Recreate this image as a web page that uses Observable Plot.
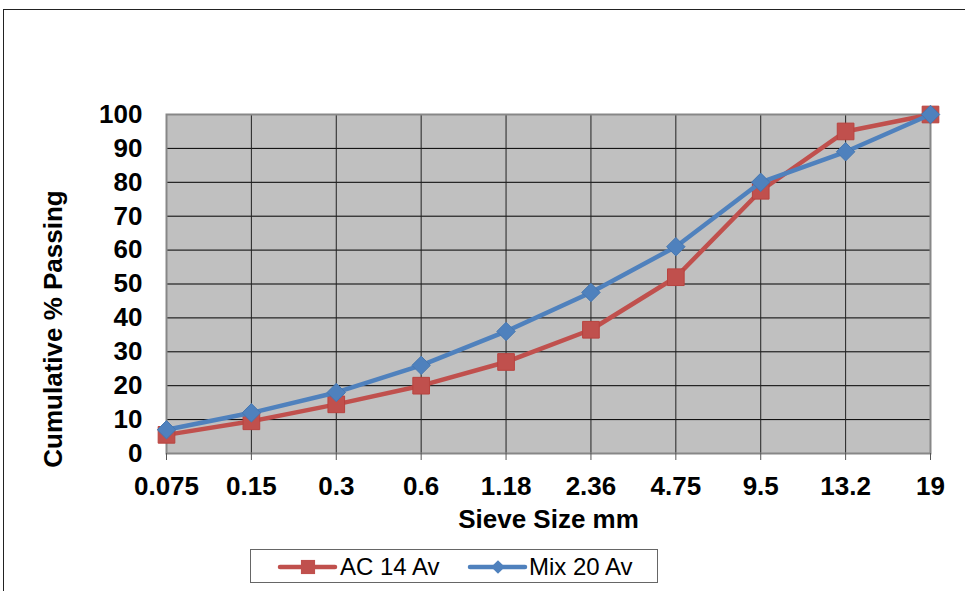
<!DOCTYPE html>
<html><head><meta charset="utf-8">
<script src="https://cdn.jsdelivr.net/npm/d3@7"></script>
<script src="https://cdn.jsdelivr.net/npm/@observablehq/plot@0.6"></script>
<style>
body{margin:0;width:965px;height:591px;overflow:hidden;position:relative;background:#fff;font-family:"Liberation Sans",Arial,sans-serif;}
#frame{position:absolute;left:3px;top:9px;width:1000px;height:700px;border:1.5px solid #222;box-sizing:border-box}
#chart{position:absolute;left:0;top:0}
#legend{position:absolute;left:250px;top:549px;width:408px;height:34px;border:1px solid #666;box-sizing:border-box;background:#fff}
#legend svg{position:absolute;left:0;top:0}
</style></head><body>
<div id="frame"></div>
<div id="chart"></div>
<div id="legend"></div>
<script>
const sieves = ["0.075","0.15","0.3","0.6","1.18","2.36","4.75","9.5","13.2","19"];
const ac14 = [5.5, 9.5, 14.5, 20, 27, 36.5, 52, 77.5, 95, 100];
const mix20 = [7, 12, 18, 26, 36, 47.5, 61, 80, 89, 100];
const yTicks = [0,10,20,30,40,50,60,70,80,90,100];
const seriesNames = ["AC 14 Av", "Mix 20 Av"];
const colors = ["#C0504D", "#4F81BD"];

const acData = sieves.map((s,i) => ({sieve:s, value:ac14[i]}));
const mixData = sieves.map((s,i) => ({sieve:s, value:mix20[i]}));

const chart = Plot.plot({
  width: 965, height: 545,
  marginLeft: 166, marginRight: 35, marginTop: 114, marginBottom: 92,
  style: {fontFamily: '"Liberation Sans", Arial, sans-serif', fontSize: "26px", fontWeight: "bold", color: "#000", background: "transparent"},
  x: {type: "point", domain: sieves, padding: 0, round: false},
  y: {domain: [0, 100]},
  marks: [
    Plot.frame({fill: "#C0C0C0", stroke: null}),
    Plot.gridY(yTicks, {stroke: "#000", strokeOpacity: 1, strokeWidth: 1}),
    Plot.gridX({stroke: "#222", strokeOpacity: 1, strokeWidth: 1}),
    Plot.frame({stroke: "#878787", strokeWidth: 2}),
    Plot.axisY({ticks: yTicks, tickSize: 0, tickPadding: 24, label: null, fontSize: 26, fontWeight: "bold"}),
    Plot.axisX({tickSize: 7, tickPadding: 16, stroke: "#555", label: null, fontSize: 26, fontWeight: "bold"}),
    Plot.text(["Sieve Size mm"], {frameAnchor: "bottom", dy: 66, textAnchor: "middle", lineAnchor: "middle", fontSize: 26, fontWeight: "bold"}),
    Plot.text(["Cumulative % Passing"], {frameAnchor: "left", dx: -113, dy: 45, rotate: -90, textAnchor: "middle", lineAnchor: "middle", fontSize: 26, fontWeight: "bold"}),
    Plot.line(acData, {x: "sieve", y: "value", stroke: colors[0], strokeWidth: 4.5}),
    Plot.dot(acData, {x: "sieve", y: "value", symbol: "square", r: 9.4, fill: colors[0], stroke: "#B8433F", strokeWidth: 1}),
    Plot.line(mixData, {x: "sieve", y: "value", stroke: colors[1], strokeWidth: 4.5}),
    Plot.dot(mixData, {x: "sieve", y: "value", symbol: "diamond2", r: 8.3, fill: colors[1], stroke: "#4677B0", strokeWidth: 1})
  ]
});
document.getElementById("chart").appendChild(chart);

// Legend
const lg = d3.select("#legend").append("svg").attr("width", 408).attr("height", 34)
  .style("font-family", '"Liberation Sans", Arial, sans-serif');
const entries = [
  {x0: 29, x1: 84, cx: 57, tx: 89, sym: d3.symbolSquare, size: 200},
  {x0: 219, x1: 274, cx: 247, tx: 278, sym: d3.symbolDiamond2, size: 120}
];
entries.forEach((e, i) => {
  lg.append("line").attr("x1", e.x0).attr("x2", e.x1).attr("y1", 17).attr("y2", 17)
    .attr("stroke", colors[i]).attr("stroke-width", 4.5).attr("stroke-linecap", "round");
  lg.append("path").attr("d", d3.symbol(e.sym, e.size)()).attr("transform", `translate(${e.cx},17)`).attr("fill", colors[i]);
  lg.append("text").attr("x", e.tx).attr("y", 17).attr("dy", "0.35em").attr("font-size", 24).text(seriesNames[i]);
});
</script>
</body></html>
